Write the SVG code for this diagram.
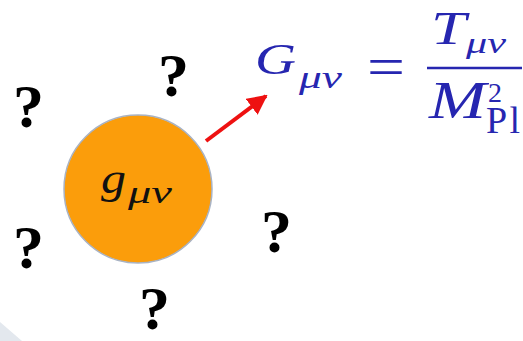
<svg xmlns="http://www.w3.org/2000/svg" width="523" height="341" viewBox="0 0 523 341">
<defs>
<style>
.q{font-family:"Liberation Serif","DejaVu Serif",serif;font-weight:bold;font-size:62px;fill:#000;text-anchor:middle}
.m{font-family:"Liberation Serif","DejaVu Serif",serif;font-style:italic;fill:#2626b0}
.r{font-family:"Liberation Serif","DejaVu Serif",serif;fill:#2626b0}
</style>
<marker id="ah" viewBox="0 0 10 10" refX="9" refY="5" markerWidth="5" markerHeight="5" orient="auto" markerUnits="strokeWidth">
<path d="M0,0 L10,5 L0,10 Z" fill="#ee1111"/>
</marker>
</defs>
<rect width="523" height="341" fill="#fff"/>
<polygon points="0,322 22,341 0,341" fill="#e3e8ee"/>
<g id="connectors">
<line x1="206" y1="141" x2="266" y2="96" stroke="#ee1111" stroke-width="4" marker-end="url(#ah)"/>
</g>
<g id="metric">
<circle cx="138" cy="189" r="74" fill="#fb9d0b" stroke="#a9b3c4" stroke-width="1.5"/>
<text x="101" y="193" font-family="'Liberation Serif',serif" font-style="italic" font-size="44" fill="#111" textLength="25" lengthAdjust="spacingAndGlyphs">g</text>
<text x="128" y="203" font-family="'Liberation Serif',serif" font-style="italic" font-size="32" fill="#111" textLength="44" lengthAdjust="spacingAndGlyphs">μν</text>
</g>
<g id="questions">
<text class="q" x="28.5" y="127">?</text>
<text class="q" x="173.5" y="96">?</text>
<text class="q" x="28.5" y="268">?</text>
<text class="q" x="276.5" y="252">?</text>
<text class="q" x="154.5" y="329">?</text>
</g>
<g id="equation">
<text class="m" x="255" y="74" font-size="44" textLength="41" lengthAdjust="spacingAndGlyphs">G</text>
<text class="m" x="299" y="88" font-size="31" textLength="43" lengthAdjust="spacingAndGlyphs">μν</text>
<text class="r" x="367" y="86" font-size="56" textLength="38" lengthAdjust="spacingAndGlyphs">=</text>
<text class="m" x="431" y="44" font-size="47" textLength="35" lengthAdjust="spacingAndGlyphs">T</text>
<text class="m" x="466" y="53" font-size="29" textLength="40" lengthAdjust="spacingAndGlyphs">μν</text>
<line x1="427" y1="68" x2="522" y2="68" stroke="#2626b0" stroke-width="2.5"/>
<text class="m" x="429" y="118" font-size="52" textLength="57" lengthAdjust="spacingAndGlyphs">M</text>
<text class="r" x="488" y="102" font-size="28">2</text>
<text class="r" x="486" y="133" font-size="38" textLength="34" lengthAdjust="spacing">Pl</text>
</g>
</svg>
